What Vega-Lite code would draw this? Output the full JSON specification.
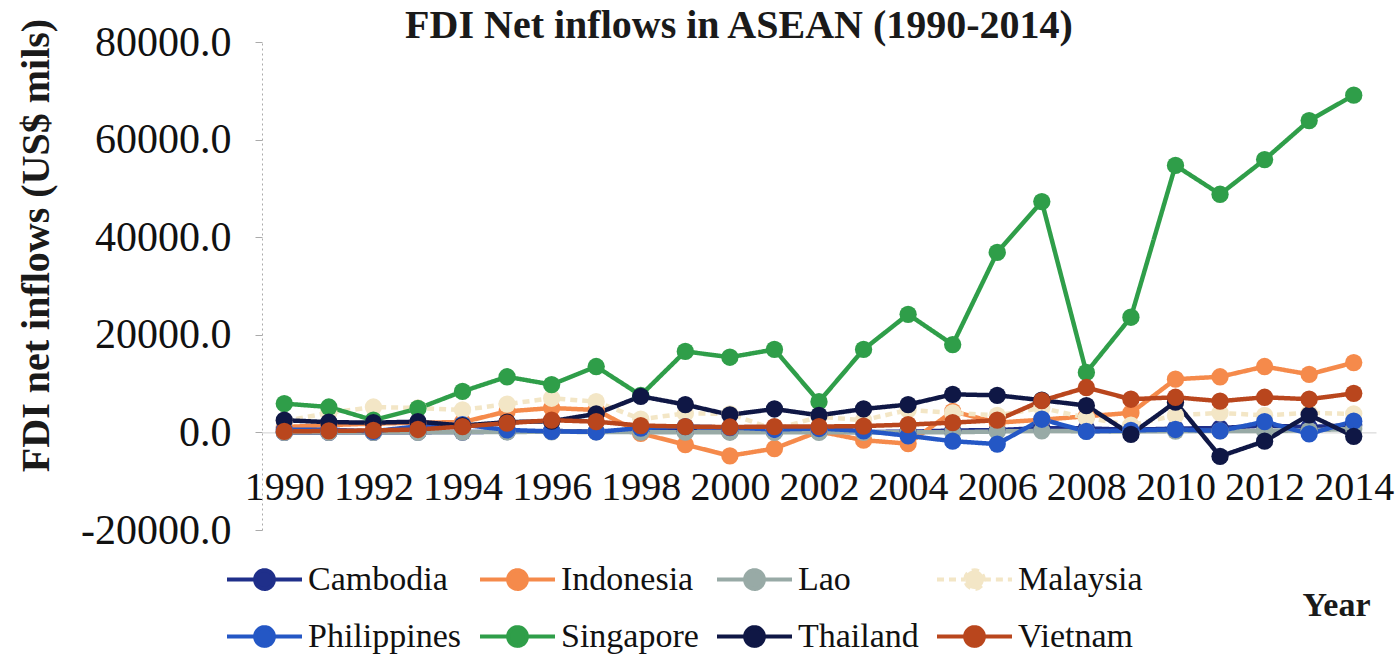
{
  "$schema": "https://vega.github.io/schema/vega-lite/v6.json",
  "width": 1114,
  "height": 488,
  "autosize": {"type": "none"},
  "padding": {"left": 262, "top": 42, "right": 20, "bottom": 131},
  "background": "white",
  "title": {
    "text": "FDI Net inflows in ASEAN (1990-2014)",
    "font": "Liberation Serif",
    "fontSize": 40,
    "fontWeight": "bold",
    "color": "#1a1a1a",
    "anchor": "middle",
    "dx": -80,
    "offset": -28
  },
  "config": {"view": {"stroke": null}},
  "data": {
    "values": [
      {"country": "Cambodia", "year": 1990, "fdi": 0},
      {"country": "Cambodia", "year": 1991, "fdi": 0},
      {"country": "Cambodia", "year": 1992, "fdi": 30},
      {"country": "Cambodia", "year": 1993, "fdi": 50},
      {"country": "Cambodia", "year": 1994, "fdi": 70},
      {"country": "Cambodia", "year": 1995, "fdi": 150},
      {"country": "Cambodia", "year": 1996, "fdi": 290},
      {"country": "Cambodia", "year": 1997, "fdi": 170},
      {"country": "Cambodia", "year": 1998, "fdi": 240},
      {"country": "Cambodia", "year": 1999, "fdi": 230},
      {"country": "Cambodia", "year": 2000, "fdi": 150},
      {"country": "Cambodia", "year": 2001, "fdi": 150},
      {"country": "Cambodia", "year": 2002, "fdi": 145},
      {"country": "Cambodia", "year": 2003, "fdi": 85},
      {"country": "Cambodia", "year": 2004, "fdi": 130},
      {"country": "Cambodia", "year": 2005, "fdi": 380},
      {"country": "Cambodia", "year": 2006, "fdi": 480},
      {"country": "Cambodia", "year": 2007, "fdi": 870},
      {"country": "Cambodia", "year": 2008, "fdi": 820},
      {"country": "Cambodia", "year": 2009, "fdi": 540},
      {"country": "Cambodia", "year": 2010, "fdi": 780},
      {"country": "Cambodia", "year": 2011, "fdi": 900},
      {"country": "Cambodia", "year": 2012, "fdi": 1400},
      {"country": "Cambodia", "year": 2013, "fdi": 1100},
      {"country": "Cambodia", "year": 2014, "fdi": 1500},

      {"country": "Indonesia", "year": 1990, "fdi": 1100},
      {"country": "Indonesia", "year": 1991, "fdi": 1500},
      {"country": "Indonesia", "year": 1992, "fdi": 1800},
      {"country": "Indonesia", "year": 1993, "fdi": 2000},
      {"country": "Indonesia", "year": 1994, "fdi": 2100},
      {"country": "Indonesia", "year": 1995, "fdi": 4300},
      {"country": "Indonesia", "year": 1996, "fdi": 5000},
      {"country": "Indonesia", "year": 1997, "fdi": 4600},
      {"country": "Indonesia", "year": 1998, "fdi": -200},
      {"country": "Indonesia", "year": 1999, "fdi": -2500},
      {"country": "Indonesia", "year": 2000, "fdi": -4800},
      {"country": "Indonesia", "year": 2001, "fdi": -3300},
      {"country": "Indonesia", "year": 2002, "fdi": 200},
      {"country": "Indonesia", "year": 2003, "fdi": -1600},
      {"country": "Indonesia", "year": 2004, "fdi": -2300},
      {"country": "Indonesia", "year": 2005, "fdi": 4300},
      {"country": "Indonesia", "year": 2006, "fdi": 2000},
      {"country": "Indonesia", "year": 2007, "fdi": 2600},
      {"country": "Indonesia", "year": 2008, "fdi": 3300},
      {"country": "Indonesia", "year": 2009, "fdi": 4000},
      {"country": "Indonesia", "year": 2010, "fdi": 10900},
      {"country": "Indonesia", "year": 2011, "fdi": 11400},
      {"country": "Indonesia", "year": 2012, "fdi": 13500},
      {"country": "Indonesia", "year": 2013, "fdi": 11900},
      {"country": "Indonesia", "year": 2014, "fdi": 14300},

      {"country": "Lao", "year": 1990, "fdi": 6},
      {"country": "Lao", "year": 1991, "fdi": 8},
      {"country": "Lao", "year": 1992, "fdi": 9},
      {"country": "Lao", "year": 1993, "fdi": 30},
      {"country": "Lao", "year": 1994, "fdi": 60},
      {"country": "Lao", "year": 1995, "fdi": 90},
      {"country": "Lao", "year": 1996, "fdi": 130},
      {"country": "Lao", "year": 1997, "fdi": 90},
      {"country": "Lao", "year": 1998, "fdi": 45},
      {"country": "Lao", "year": 1999, "fdi": 50},
      {"country": "Lao", "year": 2000, "fdi": 35},
      {"country": "Lao", "year": 2001, "fdi": 25},
      {"country": "Lao", "year": 2002, "fdi": 5},
      {"country": "Lao", "year": 2003, "fdi": 20},
      {"country": "Lao", "year": 2004, "fdi": 15},
      {"country": "Lao", "year": 2005, "fdi": 30},
      {"country": "Lao", "year": 2006, "fdi": 190},
      {"country": "Lao", "year": 2007, "fdi": 320},
      {"country": "Lao", "year": 2008, "fdi": 230},
      {"country": "Lao", "year": 2009, "fdi": 190},
      {"country": "Lao", "year": 2010, "fdi": 280},
      {"country": "Lao", "year": 2011, "fdi": 300},
      {"country": "Lao", "year": 2012, "fdi": 290},
      {"country": "Lao", "year": 2013, "fdi": 430},
      {"country": "Lao", "year": 2014, "fdi": 720},

      {"country": "Malaysia", "year": 1990, "fdi": 2300},
      {"country": "Malaysia", "year": 1991, "fdi": 4000},
      {"country": "Malaysia", "year": 1992, "fdi": 5200},
      {"country": "Malaysia", "year": 1993, "fdi": 5000},
      {"country": "Malaysia", "year": 1994, "fdi": 4600},
      {"country": "Malaysia", "year": 1995, "fdi": 5800},
      {"country": "Malaysia", "year": 1996, "fdi": 7000},
      {"country": "Malaysia", "year": 1997, "fdi": 6300},
      {"country": "Malaysia", "year": 1998, "fdi": 2700},
      {"country": "Malaysia", "year": 1999, "fdi": 3900},
      {"country": "Malaysia", "year": 2000, "fdi": 3800},
      {"country": "Malaysia", "year": 2001, "fdi": 600},
      {"country": "Malaysia", "year": 2002, "fdi": 3200},
      {"country": "Malaysia", "year": 2003, "fdi": 2500},
      {"country": "Malaysia", "year": 2004, "fdi": 4600},
      {"country": "Malaysia", "year": 2005, "fdi": 4000},
      {"country": "Malaysia", "year": 2006, "fdi": 3500},
      {"country": "Malaysia", "year": 2007, "fdi": 5000},
      {"country": "Malaysia", "year": 2008, "fdi": 3000},
      {"country": "Malaysia", "year": 2009, "fdi": 1500},
      {"country": "Malaysia", "year": 2010, "fdi": 3500},
      {"country": "Malaysia", "year": 2011, "fdi": 4000},
      {"country": "Malaysia", "year": 2012, "fdi": 3500},
      {"country": "Malaysia", "year": 2013, "fdi": 4000},
      {"country": "Malaysia", "year": 2014, "fdi": 3800},

      {"country": "Philippines", "year": 1990, "fdi": 530},
      {"country": "Philippines", "year": 1991, "fdi": 540},
      {"country": "Philippines", "year": 1992, "fdi": 230},
      {"country": "Philippines", "year": 1993, "fdi": 1240},
      {"country": "Philippines", "year": 1994, "fdi": 1590},
      {"country": "Philippines", "year": 1995, "fdi": 500},
      {"country": "Philippines", "year": 1996, "fdi": 200},
      {"country": "Philippines", "year": 1997, "fdi": 100},
      {"country": "Philippines", "year": 1998, "fdi": 900},
      {"country": "Philippines", "year": 1999, "fdi": 1200},
      {"country": "Philippines", "year": 2000, "fdi": 1000},
      {"country": "Philippines", "year": 2001, "fdi": 600},
      {"country": "Philippines", "year": 2002, "fdi": 800},
      {"country": "Philippines", "year": 2003, "fdi": 300},
      {"country": "Philippines", "year": 2004, "fdi": -700},
      {"country": "Philippines", "year": 2005, "fdi": -1800},
      {"country": "Philippines", "year": 2006, "fdi": -2400},
      {"country": "Philippines", "year": 2007, "fdi": 2700},
      {"country": "Philippines", "year": 2008, "fdi": 200},
      {"country": "Philippines", "year": 2009, "fdi": 400},
      {"country": "Philippines", "year": 2010, "fdi": 600},
      {"country": "Philippines", "year": 2011, "fdi": 300},
      {"country": "Philippines", "year": 2012, "fdi": 2200},
      {"country": "Philippines", "year": 2013, "fdi": -300},
      {"country": "Philippines", "year": 2014, "fdi": 2300},

      {"country": "Singapore", "year": 1990, "fdi": 5900},
      {"country": "Singapore", "year": 1991, "fdi": 5200},
      {"country": "Singapore", "year": 1992, "fdi": 2500},
      {"country": "Singapore", "year": 1993, "fdi": 4900},
      {"country": "Singapore", "year": 1994, "fdi": 8400},
      {"country": "Singapore", "year": 1995, "fdi": 11400},
      {"country": "Singapore", "year": 1996, "fdi": 9800},
      {"country": "Singapore", "year": 1997, "fdi": 13500},
      {"country": "Singapore", "year": 1998, "fdi": 7600},
      {"country": "Singapore", "year": 1999, "fdi": 16600},
      {"country": "Singapore", "year": 2000, "fdi": 15400},
      {"country": "Singapore", "year": 2001, "fdi": 17000},
      {"country": "Singapore", "year": 2002, "fdi": 6300},
      {"country": "Singapore", "year": 2003, "fdi": 17000},
      {"country": "Singapore", "year": 2004, "fdi": 24200},
      {"country": "Singapore", "year": 2005, "fdi": 18000},
      {"country": "Singapore", "year": 2006, "fdi": 36900},
      {"country": "Singapore", "year": 2007, "fdi": 47300},
      {"country": "Singapore", "year": 2008, "fdi": 12300},
      {"country": "Singapore", "year": 2009, "fdi": 23600},
      {"country": "Singapore", "year": 2010, "fdi": 54700},
      {"country": "Singapore", "year": 2011, "fdi": 48800},
      {"country": "Singapore", "year": 2012, "fdi": 55900},
      {"country": "Singapore", "year": 2013, "fdi": 63900},
      {"country": "Singapore", "year": 2014, "fdi": 69100},

      {"country": "Thailand", "year": 1990, "fdi": 2500},
      {"country": "Thailand", "year": 1991, "fdi": 2100},
      {"country": "Thailand", "year": 1992, "fdi": 2000},
      {"country": "Thailand", "year": 1993, "fdi": 2200},
      {"country": "Thailand", "year": 1994, "fdi": 1400},
      {"country": "Thailand", "year": 1995, "fdi": 2100},
      {"country": "Thailand", "year": 1996, "fdi": 2300},
      {"country": "Thailand", "year": 1997, "fdi": 3800},
      {"country": "Thailand", "year": 1998, "fdi": 7400},
      {"country": "Thailand", "year": 1999, "fdi": 5700},
      {"country": "Thailand", "year": 2000, "fdi": 3600},
      {"country": "Thailand", "year": 2001, "fdi": 4800},
      {"country": "Thailand", "year": 2002, "fdi": 3500},
      {"country": "Thailand", "year": 2003, "fdi": 4800},
      {"country": "Thailand", "year": 2004, "fdi": 5700},
      {"country": "Thailand", "year": 2005, "fdi": 7800},
      {"country": "Thailand", "year": 2006, "fdi": 7600},
      {"country": "Thailand", "year": 2007, "fdi": 6600},
      {"country": "Thailand", "year": 2008, "fdi": 5500},
      {"country": "Thailand", "year": 2009, "fdi": -400},
      {"country": "Thailand", "year": 2010, "fdi": 6200},
      {"country": "Thailand", "year": 2011, "fdi": -4900},
      {"country": "Thailand", "year": 2012, "fdi": -1800},
      {"country": "Thailand", "year": 2013, "fdi": 3600},
      {"country": "Thailand", "year": 2014, "fdi": -800},

      {"country": "Vietnam", "year": 1990, "fdi": 200},
      {"country": "Vietnam", "year": 1991, "fdi": 300},
      {"country": "Vietnam", "year": 1992, "fdi": 400},
      {"country": "Vietnam", "year": 1993, "fdi": 600},
      {"country": "Vietnam", "year": 1994, "fdi": 1200},
      {"country": "Vietnam", "year": 1995, "fdi": 1900},
      {"country": "Vietnam", "year": 1996, "fdi": 2500},
      {"country": "Vietnam", "year": 1997, "fdi": 2200},
      {"country": "Vietnam", "year": 1998, "fdi": 1400},
      {"country": "Vietnam", "year": 1999, "fdi": 1200},
      {"country": "Vietnam", "year": 2000, "fdi": 1100},
      {"country": "Vietnam", "year": 2001, "fdi": 1200},
      {"country": "Vietnam", "year": 2002, "fdi": 1200},
      {"country": "Vietnam", "year": 2003, "fdi": 1300},
      {"country": "Vietnam", "year": 2004, "fdi": 1600},
      {"country": "Vietnam", "year": 2005, "fdi": 2000},
      {"country": "Vietnam", "year": 2006, "fdi": 2500},
      {"country": "Vietnam", "year": 2007, "fdi": 6500},
      {"country": "Vietnam", "year": 2008, "fdi": 9200},
      {"country": "Vietnam", "year": 2009, "fdi": 6800},
      {"country": "Vietnam", "year": 2010, "fdi": 7200},
      {"country": "Vietnam", "year": 2011, "fdi": 6400},
      {"country": "Vietnam", "year": 2012, "fdi": 7200},
      {"country": "Vietnam", "year": 2013, "fdi": 6800},
      {"country": "Vietnam", "year": 2014, "fdi": 8000}
    ]
  },
  "mark": {
    "type": "line",
    "strokeWidth": 4.5,
    "point": {"filled": true, "size": 300}
  },
  "encoding": {
    "x": {
      "field": "year",
      "type": "quantitative",
      "scale": {"domain": [1989.5, 2014.5], "nice": false, "zero": false},
      "axis": {
        "orient": "bottom",
        "offset": -97.6,
        "values": [1990, 1992, 1994, 1996, 1998, 2000, 2002, 2004, 2006, 2008, 2010, 2012, 2014],
        "format": "d",
        "grid": false,
        "ticks": false,
        "tickSize": 0,
        "domainColor": "#d0d0d0",
        "domainWidth": 1,
        "labelFont": "Liberation Serif",
        "labelFontSize": 40,
        "labelColor": "#111111",
        "labelBaseline": "middle",
        "labelPadding": 55,
        "labelOverlap": false,
        "labelFlush": false,
        "labelBound": false,
        "title": "Year",
        "titleFont": "Liberation Serif",
        "titleFontSize": 34,
        "titleFontWeight": "bold",
        "titleColor": "#1a1a1a",
        "titleX": 1074,
        "titleY": 173,
        "titleAlign": "center",
        "titleBaseline": "middle"
      }
    },
    "y": {
      "field": "fdi",
      "type": "quantitative",
      "scale": {"domain": [-20000, 80000], "nice": false},
      "axis": {
        "values": [-20000, 0, 20000, 40000, 60000, 80000],
        "labelExpr": "datum.value < 0 ? '-' + format(-datum.value, '.1f') : format(datum.value, '.1f')",
        "grid": false,
        "tickSize": 7,
        "tickColor": "#aaaaaa",
        "domainColor": "#aaaaaa",
        "domainDash": [2, 3],
        "labelFont": "Liberation Serif",
        "labelFontSize": 42,
        "labelColor": "#111111",
        "labelPadding": 24,
        "title": "FDI net inflows (US$ mils)",
        "titleFont": "Liberation Serif",
        "titleFontSize": 40,
        "titleFontWeight": "bold",
        "titleColor": "#1a1a1a",
        "titleX": -226,
        "titleY": 203,
        "titleAngle": -90,
        "titleAlign": "center",
        "titleBaseline": "middle"
      }
    },
    "color": {
      "field": "country",
      "type": "nominal",
      "scale": {
        "domain": ["Cambodia", "Indonesia", "Lao", "Malaysia", "Philippines", "Singapore", "Thailand", "Vietnam"],
        "range": ["#1f2f8a", "#f58a4b", "#98aaa6", "#f3e6c6", "#2457c5", "#2f9e49", "#0f1745", "#b9461d"]
      },
      "legend": {
        "orient": "none",
        "legendX": -37,
        "legendY": 498,
        "columns": 4,
        "direction": "horizontal",
        "title": null,
        "labelFont": "Liberation Serif",
        "labelFontSize": 34,
        "labelColor": "#111111",
        "symbolType": "M-1,0H-0.25M0.25,0H1M-0.25,0A0.25,0.25,0,1,1,0.25,0A0.25,0.25,0,1,1,-0.25,0Z",
        "symbolSize": 5625,
        "symbolStrokeWidth": 4,
        "symbolOpacity": 1,
        "labelOffset": 4,
        "columnPadding": 10,
        "rowPadding": 0,
        "encode": {
          "symbols": {
            "update": {
              "fill": {"scale": "color", "field": "value"},
              "fillOpacity": {"value": 1}
            }
          }
        }
      }
    },
    "strokeDash": {
      "field": "country",
      "type": "nominal",
      "scale": {
        "domain": ["Cambodia", "Indonesia", "Lao", "Malaysia", "Philippines", "Singapore", "Thailand", "Vietnam"],
        "range": [[1, 0], [1, 0], [1, 0], [7, 5], [1, 0], [1, 0], [1, 0], [1, 0]]
      }
    }
  }
}
